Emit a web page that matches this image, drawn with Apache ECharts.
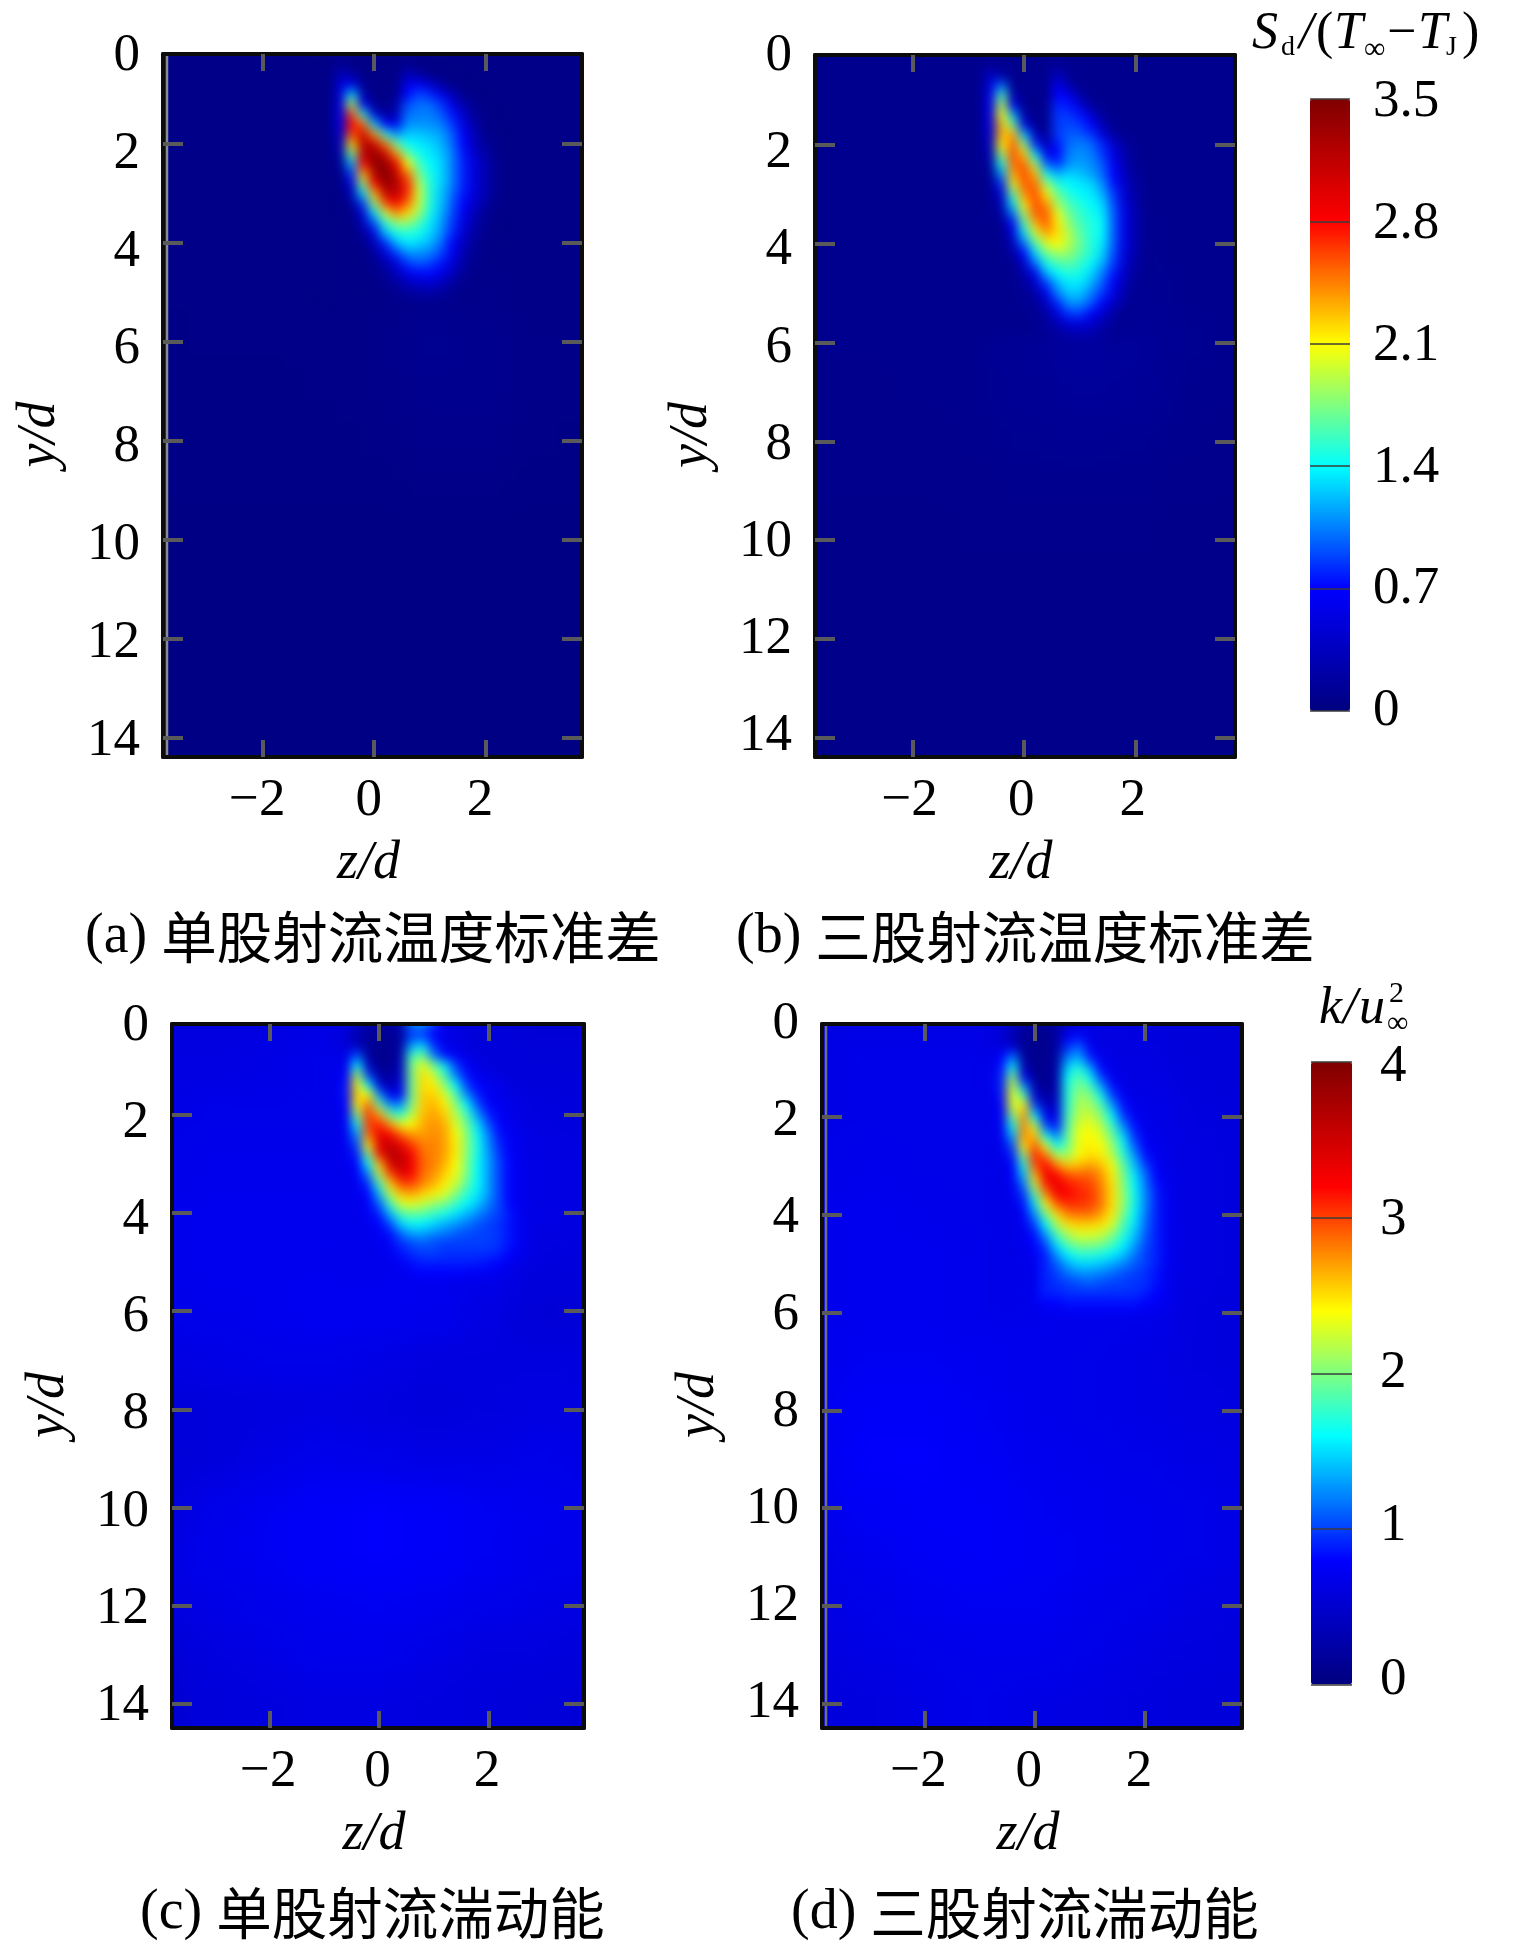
<!DOCTYPE html>
<html><head><meta charset="utf-8">
<style>
html,body{margin:0;padding:0;background:#fff}
#stage{position:relative;width:1516px;height:1949px;overflow:hidden}
#clip{position:absolute;left:0;top:0;width:1516px;height:1949px;clip-path:path("M163 54H582V757H163Z M815 55H1235V757H815Z M172 1024H584V1728H172Z M822 1024H1242V1728H822Z")}
#bg,#fine,#over{position:absolute;left:0;top:0;width:1516px;height:1949px}
#bg{filter:blur(16px)}
#fine{filter:blur(5.5px)}
</style>
<script src="https://cdn.jsdelivr.net/npm/echarts@6/dist/echarts.min.js"></script>
</head><body>
<div id="stage"><div id="clip"><div id="bg"></div><div id="fine"></div></div><div id="over"></div></div>
<script>
const zTicks=[-2,0,2];
const yTicks=[2,4,6,8,10,12,14];
const yLabels=[0,2,4,6,8,10,12,14];
const scaleTempTicks=[0,0.7,1.4,2.1,2.8,3.5];
const scaleKTicks=[0,1,2,3,4];
const jetStops=['#00007f','#0000ff','#00ffff','#ffff00','#ff0000','#7f0000'];
const captions=[['(a) ','单股射流温度标准差'],['(b) ','三股射流温度标准差'],['(c) ','单股射流湍动能'],['(d) ','三股射流湍动能']];

/* coarse far-field grid: z -4..4, y 0..15 */
const zCoarse=[-4,-3,-2,-1,0,1,2,3,4];
const yCoarse=[0,1,2,3,4,5,6,7,8,9,10,11,12,13,14,15];
const farA=[[.05,.05,.05,.05,.05,.05,.05,.05,.05],[.05,.05,.05,.05,.05,.05,.05,.05,.05],[.05,.05,.05,.05,.05,.05,.05,.05,.05],[.05,.05,.05,.05,.05,.05,.05,.05,.05],[.05,.05,.05,.05,.05,.05,.05,.05,.05],[.05,.05,.05,.05,.06,.08,.07,.05,.05],[.04,.05,.05,.05,.06,.1,.09,.06,.05],[.04,.04,.04,.05,.06,.09,.09,.06,.05],[.04,.04,.04,.04,.05,.07,.07,.05,.04],[.04,.04,.04,.04,.04,.05,.05,.04,.04],[.03,.03,.03,.03,.03,.03,.03,.03,.03],[.03,.03,.03,.03,.03,.03,.03,.03,.03],[.03,.03,.03,.03,.03,.03,.03,.03,.03],[.03,.03,.03,.03,.03,.03,.03,.03,.03],[.03,.03,.03,.03,.03,.03,.03,.03,.03],[.03,.03,.03,.03,.03,.03,.03,.03,.03]];
const farB=[[.09,.09,.09,.09,.09,.09,.09,.09,.09],[.09,.09,.09,.09,.09,.09,.09,.09,.09],[.09,.09,.09,.09,.09,.09,.09,.09,.09],[.09,.09,.09,.09,.09,.09,.09,.09,.09],[.09,.09,.09,.09,.09,.1,.1,.09,.09],[.08,.09,.09,.09,.12,.14,.12,.09,.09],[.08,.08,.09,.09,.13,.18,.15,.1,.08],[.07,.07,.08,.09,.12,.15,.14,.09,.08],[.07,.07,.07,.08,.1,.11,.1,.08,.07],[.07,.07,.07,.07,.08,.08,.08,.07,.07],[.06,.06,.06,.07,.07,.07,.07,.06,.06],[.06,.06,.06,.06,.06,.06,.06,.06,.06],[.06,.06,.06,.06,.06,.06,.06,.06,.06],[.06,.06,.06,.06,.06,.06,.06,.06,.06],[.06,.06,.06,.06,.06,.06,.06,.06,.06],[.06,.06,.06,.06,.06,.06,.06,.06,.06]];
const farC=[[.6,.6,.62,.64,.64,.62,.56,.54,.54],[.62,.62,.64,.66,.66,.64,.58,.56,.56],[.64,.66,.66,.66,.66,.66,.66,.6,.58],[.66,.68,.68,.68,.68,.68,.68,.64,.6],[.68,.7,.7,.7,.7,.7,.7,.64,.6],[.68,.7,.7,.7,.7,.7,.68,.6,.58],[.66,.68,.7,.72,.72,.7,.62,.54,.56],[.62,.64,.66,.66,.64,.6,.6,.6,.6],[.56,.58,.6,.62,.6,.58,.6,.62,.6],[.54,.58,.64,.68,.66,.64,.64,.66,.64],[.58,.66,.72,.76,.78,.76,.72,.7,.66],[.62,.68,.72,.76,.78,.76,.72,.68,.66],[.6,.64,.68,.7,.72,.7,.66,.64,.62],[.54,.6,.64,.68,.68,.64,.6,.6,.56],[.52,.58,.6,.62,.62,.6,.58,.56,.54],[.52,.58,.6,.62,.62,.6,.58,.56,.54]];
const farD=[[.62,.64,.64,.64,.62,.62,.6,.56,.54],[.64,.66,.66,.66,.64,.64,.62,.58,.56],[.64,.66,.66,.66,.66,.66,.66,.6,.58],[.66,.68,.66,.66,.66,.66,.66,.62,.58],[.68,.7,.68,.66,.66,.68,.68,.62,.58],[.68,.7,.7,.68,.68,.7,.68,.62,.58],[.68,.7,.7,.68,.68,.68,.66,.6,.58],[.68,.72,.72,.7,.68,.66,.64,.6,.58],[.7,.76,.76,.72,.68,.66,.64,.62,.6],[.7,.78,.78,.74,.7,.68,.66,.64,.62],[.68,.74,.76,.76,.72,.7,.68,.66,.62],[.64,.7,.74,.76,.74,.72,.68,.66,.62],[.62,.66,.7,.72,.72,.68,.66,.62,.6],[.6,.64,.66,.68,.68,.66,.62,.6,.58],[.58,.6,.64,.66,.64,.62,.6,.58,.56],[.58,.6,.64,.66,.64,.62,.6,.58,.56]];

/* plume detail grid: z -0.8..2.6, y 0..6.2 (rows may stop early where only far field remains) */
const zFine=[-.8,-.6,-.4,-.2,0,.2,.4,.6,.8,1,1.2,1.4,1.6,1.8,2,2.2,2.4,2.6];
const yFine=[0,.2,.4,.6,.8,1,1.2,1.4,1.6,1.8,2,2.2,2.4,2.6,2.8,3,3.2,3.4,3.6,3.8,4,4.2,4.4,4.6,4.8,5,5.2,5.4,5.6,5.8,6,6.2];
const fineA=[
[],
[],
[.05,.15,.05,.05,.05,.05,.05,.12,.05],
[.05,.3,.2,.05,.05,.05,.05,.3,.2,.05],
[.05,.5,.6,.1,.05,.05,.05,.6,.65,.45,.2,.05],
[.05,.45,1.3,.25,.05,.05,.1,.7,.9,.8,.6,.3,.08],
[.05,.55,1.9,.7,.1,.05,.2,.9,1,1,.85,.55,.25,.08],
[.05,.6,2.6,1.5,.5,.15,.3,1,1.05,1.05,.95,.75,.4,.15,.05],
[.05,.55,2.8,2.5,1.3,.7,.6,1.1,1.1,1.1,1.05,.85,.55,.2,.07],
[.05,.45,2.6,3.1,2.4,1.5,1.1,1.25,1.25,1.2,1.15,.95,.65,.3,.1],
[.05,.35,2.2,3.2,3.1,2.5,1.7,1.4,1.35,1.3,1.2,1,.7,.35,.15,.06],
[.05,.25,1.7,3.1,3.4,3.1,2.4,1.7,1.45,1.35,1.25,1.05,.75,.42,.22,.07],
[.05,.12,1.2,2.8,3.4,3.4,2.9,2.1,1.6,1.4,1.3,1.05,.78,.5,.28,.1],
[.05,.05,.85,2.3,3.2,3.5,3.1,2.5,1.75,1.45,1.3,1.05,.78,.5,.28,.1],
[.05,.05,.55,1.8,2.8,3.4,3.25,2.7,1.9,1.5,1.3,1.05,.78,.5,.28,.1],
[.05,.05,.3,1.3,2.3,3.1,3.15,2.7,2,1.5,1.25,1,.75,.48,.26,.09],
[.05,.05,.12,.85,1.8,2.6,2.85,2.5,1.95,1.5,1.25,.95,.7,.42,.2,.07],
[.05,.05,.05,.5,1.3,1.95,2.4,2.2,1.85,1.45,1.2,.9,.6,.3,.12,.05],
[.05,.05,.05,.3,.9,1.5,1.8,1.8,1.6,1.35,1.15,.85,.55,.25,.1],
[.05,.05,.05,.15,.5,1.2,1.45,1.5,1.45,1.3,1.1,.8,.45,.2,.08],
[.05,.05,.05,.08,.3,.8,1.2,1.35,1.3,1.2,1,.7,.35,.15,.06],
[.05,.05,.05,.05,.15,.5,.85,1.1,1.1,1.05,.9,.6,.28,.1],
[.05,.05,.05,.05,.08,.25,.5,.85,.95,.9,.75,.5,.2,.08],
[.05,.05,.05,.05,.06,.14,.35,.6,.72,.72,.6,.35,.14,.06],
[.05,.05,.05,.05,.05,.09,.18,.32,.42,.45,.35,.18,.08],
[.05,.05,.05,.05,.05,.06,.1,.16,.2,.22,.18,.1,.06],
[],[],[],[],[],[]];
const fineB=[
[],
[],
[.09,.15,.09,.09,.09,.09,.09,.15,.09],
[.09,.4,.2,.09,.09,.09,.09,.35,.12,.09],
[.09,.5,1,.1,.09,.09,.09,.6,.25,.09],
[.09,.6,1.6,.25,.09,.09,.09,.7,.6,.25,.09],
[.09,.6,1.9,.65,.09,.09,.09,.8,.75,.5,.15,.09],
[.09,.6,2.1,1.2,.2,.09,.09,.85,.85,.75,.5,.15,.09],
[.09,.55,2.3,1.7,.6,.1,.09,.85,.9,.85,.7,.3,.1],
[.09,.5,2.3,2.35,1.25,.4,.1,.85,.95,.95,.85,.5,.2,.09],
[.09,.4,2.1,2.55,1.8,.8,.3,.75,1,1.05,1,.8,.45,.2,.1],
[.09,.3,1.8,2.6,2.25,1.35,.6,.7,1.05,1.1,1.05,.85,.55,.25,.1],
[.09,.2,1.45,2.5,2.55,1.85,1,.85,1.1,1.15,1.1,.95,.62,.3,.12],
[.09,.1,1.1,2.3,2.6,2.3,1.45,1.2,1.3,1.25,1.15,1,.7,.35,.15],
[.09,.09,.8,2,2.55,2.5,1.85,1.5,1.4,1.35,1.3,1.1,.75,.4,.18],
[.09,.09,.5,1.65,2.4,2.6,2.15,1.7,1.5,1.4,1.35,1.2,.85,.45,.2],
[.09,.09,.3,1.3,2.15,2.6,2.4,1.85,1.6,1.5,1.4,1.3,.9,.5,.22],
[.09,.09,.2,1,1.85,2.55,2.55,2.05,1.7,1.55,1.45,1.35,.95,.55,.25],
[.09,.09,.1,.7,1.6,2.3,2.55,2.15,1.8,1.6,1.5,1.4,.95,.55,.25],
[.09,.09,.09,.5,1.3,1.95,2.35,2.2,1.9,1.65,1.5,1.4,.95,.55,.25],
[.09,.09,.09,.3,1,1.6,2,2.1,1.9,1.7,1.5,1.35,.95,.55,.25],
[.09,.09,.09,.2,.7,1.3,1.7,1.85,1.8,1.65,1.5,1.3,.9,.5,.22],
[.09,.09,.09,.1,.4,1,1.45,1.6,1.65,1.55,1.4,1.2,.85,.45,.2],
[.09,.09,.09,.09,.25,.6,1.2,1.4,1.5,1.45,1.3,1.05,.75,.4,.15],
[.09,.09,.09,.09,.15,.4,.85,1.2,1.35,1.35,1.2,.95,.65,.3,.12],
[.09,.09,.09,.09,.12,.22,.6,1.05,1.25,1.25,1.05,.85,.55,.25,.1],
[.09,.09,.09,.09,.1,.14,.35,.8,1.1,1.1,.95,.7,.4,.18,.09],
[.09,.09,.09,.09,.09,.12,.22,.55,.85,.9,.7,.45,.22,.1],
[.09,.09,.09,.09,.09,.1,.16,.3,.5,.55,.45,.3,.15,.09],
[.09,.09,.09,.09,.09,.1,.13,.18,.25,.3,.25,.18,.1],
[],[]];
const fineC=[
[.6,.6,.55,.4,.3,.3,.4,1.5,1.6,1.3,.7,.62],
[.62,.58,.4,.25,.15,.15,.25,1.1,1.15,.9,.65,.62],
[.62,.55,.3,.2,.15,.15,.2,1,1,.8,.65,.62],
[.64,.55,.45,.15,.1,.1,.2,1.3,1.5,.95,.7,.64],
[.64,.65,1.05,.2,.1,.1,.3,1.8,1.95,1.2,.85,.72,.64],
[.66,.7,1.6,.45,.1,.1,.4,1.95,2.35,1.95,1.55,1,.75,.64],
[.66,.8,2.15,1,.25,.15,.5,1.95,2.5,2.25,1.8,1.2,.85,.7,.64],
[.66,.85,2.45,1.6,.6,.3,.6,1.95,2.5,2.45,2.05,1.6,1,.8,.7,.66],
[.66,.85,2.55,2.4,1.3,.7,.8,1.95,2.55,2.55,2.3,1.85,1.25,.9,.72,.66],
[.66,.8,2.35,2.9,1.95,1.25,1.25,2,2.55,2.65,2.45,2.05,1.6,1.05,.8,.7,.66],
[.66,.75,2,3.05,2.7,1.95,1.7,2.2,2.6,2.7,2.55,2.2,1.8,1.3,.9,.75,.66],
[.66,.7,1.65,3,3.1,2.75,2.35,2.4,2.65,2.75,2.65,2.3,1.95,1.5,1.05,.8,.68],
[.66,.7,1.3,2.85,3.3,3.25,2.9,2.7,2.7,2.75,2.7,2.4,2.05,1.6,1.2,.85,.72,.66],
[.68,.7,1.05,2.45,3.4,3.55,3.3,3,2.8,2.8,2.7,2.45,2.05,1.65,1.25,.9,.75,.66],
[.68,.68,.9,2,3.15,3.65,3.55,3.2,2.85,2.8,2.7,2.45,2.05,1.65,1.3,.95,.78,.66],
[.68,.68,.8,1.6,2.6,3.45,3.6,3.3,2.9,2.8,2.65,2.4,2,1.6,1.3,1,.8,.66],
[.68,.68,.75,1.2,2.2,3,3.4,3.2,2.85,2.75,2.55,2.35,2,1.6,1.3,1,.8,.68],
[.68,.68,.7,.95,1.8,2.55,3,3,2.8,2.65,2.45,2.25,1.9,1.6,1.3,1,.8,.68],
[.68,.68,.7,.8,1.4,2.2,2.6,2.7,2.55,2.45,2.3,2.05,1.75,1.55,1.3,1,.8,.68],
[.68,.68,.68,.75,1.1,1.8,2.3,2.35,2.25,2.1,2,1.8,1.6,1.45,1.2,1,.8,.68],
[.68,.68,.68,.7,.9,1.4,1.85,1.95,1.9,1.8,1.7,1.55,1.4,1.25,1.1,1,.85,.68],
[.68,.68,.68,.7,.8,1.05,1.5,1.65,1.6,1.5,1.4,1.3,1.2,1.1,1,.95,.85,.68],
[.68,.68,.68,.7,.75,.85,1.15,1.35,1.35,1.25,1.2,1.1,1.05,1,1,.95,.85,.68],
[.68,.68,.68,.68,.7,.75,.95,1.05,1.1,1.05,1,1,1,1,1,.95,.85,.7],
[.68,.68,.68,.68,.7,.7,.85,.95,1,1,.95,.95,.95,.95,.95,.92,.78,.68],
[.68,.68,.68,.68,.68,.7,.75,.85,.9,.9,.9,.9,.9,.88,.85,.8,.7],
[.68,.68,.68,.68,.68,.68,.7,.75,.8,.8,.8,.78,.76,.74,.72,.7],
[],[],[],[],[]];
const fineD=[
[.62,.6,.5,.3,.2,.2,.25,.5,.64,.66],
[.62,.56,.4,.22,.12,.12,.2,.55,.62,.64],
[.62,.52,.3,.15,.1,.1,.2,.75,.85,.62,.62],
[.62,.6,.6,.15,.1,.1,.2,.95,1.15,.75,.62],
[.64,.8,1.2,.2,.1,.1,.2,1.2,1.35,.9,.68,.62],
[.64,.85,1.65,.35,.1,.1,.25,1.45,1.7,1.3,.8,.65,.62],
[.64,.9,2.05,.8,.15,.1,.25,1.6,1.9,1.6,1,.7,.62],
[.65,.9,2.25,1.3,.3,.1,.3,1.7,2,1.85,1.35,.85,.66,.62],
[.65,.85,2.35,1.9,.6,.2,.35,1.7,2.1,2.05,1.65,1.05,.75,.64],
[.65,.8,2.25,2.5,1.05,.4,.5,1.75,2.15,2.15,1.9,1.35,.85,.68,.64],
[.65,.75,1.95,2.75,1.6,.7,.6,1.8,2.2,2.25,2.05,1.6,1,.75,.65],
[.65,.7,1.65,2.8,2.2,1.05,.85,1.85,2.3,2.35,2.2,1.8,1.25,.85,.68,.64],
[.65,.7,1.35,2.75,2.6,1.65,1.2,1.9,2.35,2.4,2.3,1.95,1.5,.95,.72,.65],
[.65,.65,1.05,2.45,2.95,2.3,1.6,1.95,2.35,2.45,2.4,2.1,1.65,1.1,.78,.66],
[.65,.65,.9,2,3.1,2.85,2.2,2.1,2.4,2.5,2.45,2.2,1.75,1.3,.85,.7,.64],
[.65,.65,.8,1.7,2.95,3.2,2.8,2.55,2.6,2.7,2.6,2.4,1.9,1.45,1,.75,.64],
[.65,.65,.75,1.4,2.6,3.3,3.2,2.95,2.9,2.9,2.75,2.45,2,1.55,1.15,.8,.66],
[.65,.65,.7,1.15,2.2,3.1,3.35,3.15,3.05,3,2.8,2.5,2.05,1.6,1.2,.85,.68],
[.65,.65,.7,.95,1.85,2.75,3.25,3.2,3.1,3.05,2.85,2.5,2.1,1.65,1.25,.9,.7],
[.65,.65,.65,.85,1.5,2.35,2.9,3.05,3.05,3,2.85,2.5,2.1,1.65,1.25,.9,.7],
[.65,.65,.65,.75,1.25,1.95,2.5,2.8,2.85,2.85,2.7,2.45,2,1.6,1.2,.9,.7],
[.65,.65,.65,.7,1,1.6,2.15,2.5,2.55,2.55,2.5,2.3,1.85,1.55,1.15,.9,.7],
[.65,.65,.65,.7,.85,1.3,1.85,2.15,2.3,2.3,2.25,2.05,1.75,1.45,1.1,.9,.7],
[.65,.65,.65,.68,.8,1.05,1.55,1.9,2.05,2.05,2,1.85,1.6,1.35,1.05,.9,.7],
[.65,.65,.65,.65,.75,.9,1.3,1.6,1.75,1.75,1.7,1.6,1.45,1.2,1,.9,.7],
[.65,.65,.65,.65,.7,.9,1.1,1.35,1.5,1.5,1.45,1.35,1.25,1.1,1,.9,.7],
[.65,.65,.65,.65,.7,.9,1,1.15,1.25,1.25,1.2,1.15,1.05,1,.95,.85,.7],
[.65,.65,.65,.65,.7,.9,.95,1,1.05,1.1,1.05,1,1,.95,.95,.85,.7],
[.65,.65,.65,.65,.7,.9,.9,.95,.95,.95,.95,.95,.95,.95,.9,.8,.7],
[.65,.65,.65,.65,.7,.8,.8,.85,.85,.85,.85,.85,.85,.85,.8,.75,.68],
[.65,.65,.65,.65,.66,.7,.7,.72,.72,.72,.72,.72,.72,.72,.7,.68,.66],
[]];

/* layout: frame in pixels, the axis range it shows, label scales */
const panels=[
 {f:[163,54,582,757],z:[-3.79,3.73],y:[.18,14.38],zs:-5.5,ly:[56,48.9],far:farA,fine:fineA,max:3.5,cap:[85,937],nameDx:8,nameDy:58},
 {f:[815,55,1235,757],z:[-3.75,3.78],y:[.18,14.39],zs:-3,ly:[56,48.6],far:farB,fine:fineB,max:3.5,cap:[736,937],nameDx:8,nameDy:58},
 {f:[172,1024,584,1728],z:[-3.79,3.75],y:[.15,14.49],zs:-1.5,ly:[1026,48.57],far:farC,fine:fineC,max:4,cap:[140,1913],nameDx:8,nameDy:58},
 {f:[822,1024,1242,1728],z:[-3.86,3.76],y:[.11,14.49],zs:-6,ly:[1024.5,48.5],far:farD,fine:fineD,max:4,cap:[791,1913],nameDx:8,nameDy:58}
];
const serif='"Liberation Serif","Times New Roman",serif';
const tickStyle={color:'#5a5a5a',width:4};
const lineStyle={color:'#0c0c0c',width:4};

function sx(p,z){return p.f[0]+(z-p.z[0])/(p.z[1]-p.z[0])*(p.f[2]-p.f[0]);}
function sy(p,y){return p.f[1]+(y-p.y[0])/(p.y[1]-p.y[0])*(p.f[3]-p.f[1]);}
function heatOption(zs,ys,get,dz,dy){
  const grid=[],xAxis=[],yAxis=[],series=[];
  panels.forEach((p,i)=>{
    const l=sx(p,zs[0]-dz/2),r=sx(p,zs[zs.length-1]+dz/2),t=sy(p,ys[0]-dy/2),b=sy(p,ys[ys.length-1]+dy/2);
    grid.push({left:l,top:t,width:r-l,height:b-t,containLabel:false});
    xAxis.push({type:'category',gridIndex:i,data:zs.map(String),show:false});
    yAxis.push({type:'category',gridIndex:i,data:ys.map(String),inverse:true,show:false});
    const data=[];
    get(p).forEach((row,ry)=>row.forEach((v,cx)=>data.push([cx,ry,v])));
    series.push({type:'heatmap',xAxisIndex:i,yAxisIndex:i,data,progressive:0,animation:false});
  });
  return {animation:false,grid,xAxis,yAxis,series,visualMap:[
    {show:false,min:0,max:3.5,seriesIndex:[0,1],inRange:{color:jetStops}},
    {show:false,min:0,max:4,seriesIndex:[2,3],inRange:{color:jetStops}}]};
}
echarts.init(document.getElementById('bg')).setOption(heatOption(zCoarse,yCoarse,p=>p.far,1,1));
echarts.init(document.getElementById('fine')).setOption(heatOption(zFine,yFine,p=>p.fine,.2,.2));

/* overlay: axes, colour bars, all text */
const grid=[],xAxis=[],yAxis=[],graphic=[];
panels.forEach((p,i)=>{
  const r={left:p.f[0],top:p.f[1],width:p.f[2]-p.f[0],height:p.f[3]-p.f[1],containLabel:false};
  const g=grid.length; grid.push(r,{...r});
  const xt=(pos)=>({type:'value',gridIndex:g,position:pos,min:p.z[0],max:p.z[1],splitLine:{show:false},axisLine:{show:true,onZero:false,lineStyle},axisLabel:{show:false},axisTick:{show:true,inside:true,length:17,customValues:zTicks,lineStyle:tickStyle}});
  const yt=(pos)=>({type:'value',gridIndex:g,position:pos,inverse:true,min:p.y[0],max:p.y[1],splitLine:{show:false},axisLine:{show:true,onZero:false,lineStyle},axisLabel:{show:false},axisTick:{show:true,inside:true,length:20,customValues:yTicks,lineStyle:tickStyle}});
  xAxis.push(xt('bottom'),xt('top'));
  yAxis.push(yt('left'),yt('right'));
  const pz=(p.z[1]-p.z[0])/(p.f[2]-p.f[0]);
  xAxis.push({type:'value',gridIndex:g+1,position:'bottom',min:p.z[0]-p.zs*pz,max:p.z[1]-p.zs*pz,splitLine:{show:false},axisLine:{show:false},axisTick:{show:false},
    axisLabel:{show:true,margin:18,fontFamily:serif,fontSize:53,color:'#000',customValues:zTicks,formatter:v=>String(v).replace('-','\u2212')},
    name:'z/d',nameLocation:'middle',nameGap:80,nameTextStyle:{fontFamily:serif,fontStyle:'italic',fontSize:54,color:'#000',padding:[0,p.nameDx,0,0]}});
  yAxis.push({type:'value',gridIndex:g+1,position:'left',inverse:true,min:(p.f[1]-p.ly[0])/p.ly[1],max:(p.f[3]-p.ly[0])/p.ly[1],splitLine:{show:false},axisLine:{show:false},axisTick:{show:false},
    axisLabel:{show:true,margin:23,fontFamily:serif,fontSize:53,color:'#000',customValues:yLabels},
    name:'y/d',nameLocation:'middle',nameGap:96,nameRotate:90,nameTextStyle:{fontFamily:serif,fontStyle:'italic',fontSize:54,color:'#000',padding:[0,p.nameDy,0,0]}});
  graphic.push({type:'text',x:p.cap[0],y:p.cap[1],style:{text:'{l|'+captions[i][0]+'}{c|'+captions[i][1]+'}',verticalAlign:'middle',
    rich:{l:{font:'56px '+serif,fill:'#000'},c:{font:'55.5px "Noto Sans CJK SC"',fill:'#000'}}}});
});
const bars=[
 {rect:[1310,99,40,612],max:3.5,ticks:scaleTempTicks,lab:[0,3.52],margin:23},
 {rect:[1311,1062,41,622.5],max:4,ticks:scaleKTicks,lab:[-.03,4.03],margin:28}
];
const visualMap=bars.map(b=>({show:true,seriesIndex:[],min:0,max:b.max,left:b.rect[0],top:b.rect[1],itemWidth:b.rect[2],itemHeight:b.rect[3],padding:0,calculable:false,hoverLink:false,text:null,inRange:{color:jetStops}}));
bars.forEach(b=>{
  const r={left:b.rect[0],top:b.rect[1],width:b.rect[2],height:b.rect[3],containLabel:false};
  const g=grid.length; grid.push(r,{...r});
  xAxis.push({type:'value',gridIndex:g,show:false,min:0,max:1},{type:'value',gridIndex:g+1,show:false,min:0,max:1});
  yAxis.push({type:'value',gridIndex:g,position:'left',z:10,min:0,max:b.max,splitLine:{show:false},axisLine:{show:false},axisLabel:{show:false},axisTick:{show:true,inside:true,length:b.rect[2],customValues:b.ticks,lineStyle:{color:'#3c3c3c',width:1.5}}});
  yAxis.push({type:'value',gridIndex:g+1,position:'right',z:10,min:b.lab[0],max:b.lab[1],splitLine:{show:false},axisLine:{show:false},axisTick:{show:false},axisLabel:{show:true,margin:b.margin,fontFamily:serif,fontSize:53,color:'#000',customValues:b.ticks}});
});
/* colour-bar titles */
const titleParts=[
 ['S',1252,34,52,true],['d',1281,48,28,false],['/',1299,34,52,true],['(',1316,34,52,false],['T',1334,34,52,true],['\u221E',1364,50,30,false],['\u2212',1387,34,52,false],['T',1418,34,52,true],['J',1446,48,28,false],[')',1462,34,52,false],
 ['k',1319,1009,52,true],['/',1343,1009,52,true],['u',1359,1009,52,true],['2',1389,994,30,false],['\u221E',1387,1024,30,false]
];
titleParts.forEach(t=>graphic.push({type:'text',x:t[1],y:t[2],style:{text:t[0],verticalAlign:'middle',font:(t[4]?'italic ':'')+t[3]+'px '+serif,fill:'#000'}}));
/* faint grey stripe just inside the left frame edge of panels (a) and (d) */
[[0,'#8a8a92'],[3,'#70707c']].forEach(([i,c])=>{const p=panels[i];graphic.push({type:'line',shape:{x1:p.f[0]+4,y1:p.f[1]+2,x2:p.f[0]+4,y2:p.f[3]-2},style:{stroke:c,lineWidth:2.5}});});
echarts.init(document.getElementById('over')).setOption({animation:false,grid,xAxis,yAxis,visualMap,graphic});
</script>
</body></html>
